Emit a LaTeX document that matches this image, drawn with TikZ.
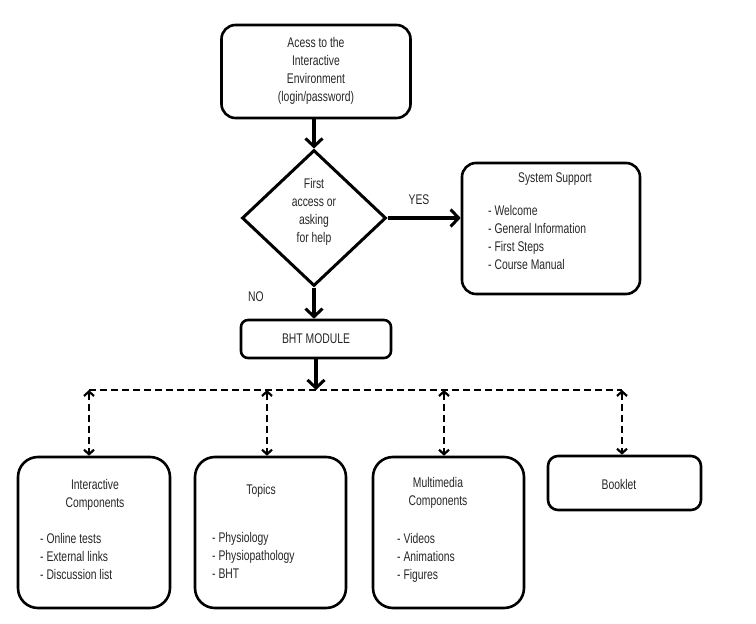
\documentclass[tikz,border=0pt]{standalone}
\usepackage{fontspec}
\setmainfont{Liberation Sans}[FakeStretch=0.74]
\usetikzlibrary{positioning,arrows.meta,shapes.geometric}

\tikzset{
  box/.style={draw,line width=2.6pt,rounded corners=#1,inner sep=0pt},
  box/.default=14pt,
  txt/.style={align=center,inner sep=0pt},
  lst/.style={align=left,inner sep=0pt,anchor=west},
  flow/.style={line width=3.2pt,-{Straight Barb[length=8pt,width=17pt,line width=3pt]}},
  link/.style={line width=2.2pt,dash pattern=on 7pt off 4pt,
    {Straight Barb[length=4.5pt,width=10pt,line width=2.2pt]}-{Straight Barb[length=4.5pt,width=10pt,line width=2.2pt]}}
}

\begin{document}
\begin{tikzpicture}[x=1pt,y=-1pt,every node/.style={font=\fontsize{14}{18}\selectfont,text=black!85}]
  \useasboundingbox (0,0) rectangle (756,624);
  % main column
  \node[box,minimum width=189pt,minimum height=93pt] (acc) at (316,71.5) {};
  \node[txt] (acct) at (316,71) {Acess to the\\Interactive\\Environment\\(login/password)};
  \node[draw,diamond,line width=3pt,minimum width=144pt,minimum height=136pt,inner sep=0pt] (dec) at (314,218) {};
  \node[txt] (dect) at (314,212) {First\\access or\\asking\\for help};
  \node[box=7pt,minimum width=150pt,minimum height=38pt] (bht) at (316,339) {};
  \node[txt] (bhtt) at (316,339) {BHT MODULE};
  % support box on the right
  \node[box,minimum width=178pt,minimum height=131pt] (sup) at (551,228.5) {};
  \node[txt] (supt) at (555,179) {System Support};
  \node[lst] (supl) at (488,237) {- Welcome\\- General Information\\- First Steps\\- Course Manual};
  \node (yes) at (419,200) {YES};
  \node (no) at (256,297) {NO};

  \draw[flow] (acc.south -| dec.north) -- (dec.north);
  \draw[flow] (dec.east) -- (dec.east -| sup.west);
  \draw[flow] (dec.south) -- (dec.south |- bht.north);

  % bottom boxes
  \node[box=20pt,minimum width=152pt,minimum height=151pt] (ic) at (94,532.5) {};
  \node[txt] (ict) at (95,495) {Interactive\\Components};
  \node[lst] (icl) at (40,556) {- Online tests\\- External links\\- Discussion list};
  \node[box=20pt,minimum width=151pt,minimum height=151pt] (top) at (270.5,532.5) {};
  \node[txt] (topt) at (261,491) {Topics};
  \node[lst] (topl) at (212,555) {- Physiology\\- Physiopathology\\- BHT};
  \node[box=20pt,minimum width=151pt,minimum height=151pt] (mm) at (448.5,532.5) {};
  \node[txt] (mmt) at (438,493) {Multimedia\\Components};
  \node[lst] (mml) at (397,558) {- Videos\\- Animations\\- Figures};
  \node[box=10pt,minimum width=153pt,minimum height=54pt] (bkl) at (624.5,483) {};
  \node[txt] (bklt) at (619,484) {Booklet};

  % dashed distribution line
  \coordinate (b1) at (89,390);
  \coordinate (b2) at (267,390);
  \coordinate (b3) at (444,390);
  \coordinate (b4) at (622,390);
  \draw[line width=2.2pt,dash pattern=on 7pt off 4pt] (b1) -- (b4);
  \draw[flow] (bht.south) -- (bht.south |- b1);
  \foreach \b/\t in {b1/ic,b2/top,b3/mm,b4/bkl}
    \draw[link] (\b) -- (\b |- \t.north);
\end{tikzpicture}
\end{document}
